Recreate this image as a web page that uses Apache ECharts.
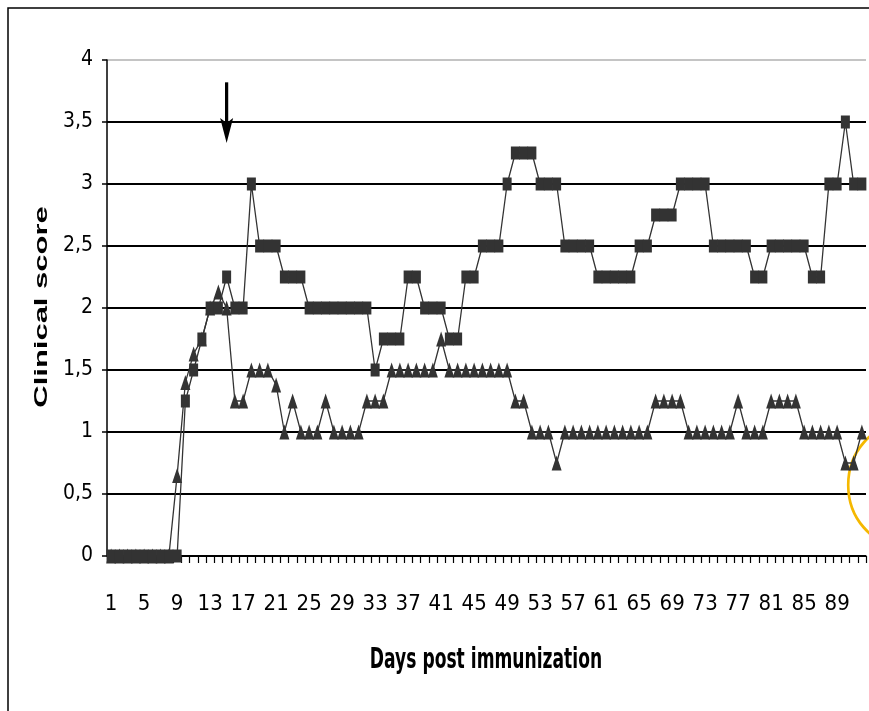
<!DOCTYPE html>
<html>
<head>
<meta charset="utf-8">
<script src="https://cdn.jsdelivr.net/npm/echarts@6/dist/echarts.min.js"></script>
<style>
html, body { margin: 0; padding: 0; background: #fff; }
#chart { width: 869px; height: 711px; }
</style>
</head>
<body>
<div id="chart"></div>
<script>
// days post immunization
var days = ['1','2','3','4','5','6','7','8','9','10','11','12','13','14','15','16','17','18','19','20',
  '21','22','23','24','25','26','27','28','29','30','31','32','33','34','35','36','37','38','39','40',
  '41','42','43','44','45','46','47','48','49','50','51','52','53','54','55','56','57','58','59','60',
  '61','62','63','64','65','66','67','68','69','70','71','72','73','74','75','76','77','78','79','80',
  '81','82','83','84','85','86','87','88','89','90','91','92'];

// square markers
var squareScore = [0,0,0,0,0,0,0,0,0,1.25,
  1.5,1.75,2,2,2.25,2,2,3,2.5,2.5,
  2.5,2.25,2.25,2.25,2,2,2,2,2,2,
  2,2,1.5,1.75,1.75,1.75,2.25,2.25,2,2,
  2,1.75,1.75,2.25,2.25,2.5,2.5,2.5,3,3.25,
  3.25,3.25,3,3,3,2.5,2.5,2.5,2.5,2.25,
  2.25,2.25,2.25,2.25,2.5,2.5,2.75,2.75,2.75,3,
  3,3,3,2.5,2.5,2.5,2.5,2.5,2.25,2.25,
  2.5,2.5,2.5,2.5,2.5,2.25,2.25,3,3,3.5,
  3,3];

// triangle markers
var triangleScore = [0,0,0,0,0,0,0,0,0.65,1.4,
  1.63,1.75,2,2.13,2,1.25,1.25,1.5,1.5,1.5,
  1.38,1,1.25,1,1,1,1.25,1,1,1,
  1,1.25,1.25,1.25,1.5,1.5,1.5,1.5,1.5,1.5,
  1.75,1.5,1.5,1.5,1.5,1.5,1.5,1.5,1.5,1.25,
  1.25,1,1,1,0.75,1,1,1,1,1,
  1,1,1,1,1,1,1.25,1.25,1.25,1.25,
  1,1,1,1,1,1,1.25,1,1,1,
  1.25,1.25,1.25,1.25,1,1,1,1,1,0.75,
  0.75,1];

// arrow annotation (day, from score, to score)
var arrowDay = '15';
var arrowFrom = 3.82;
var arrowTo = 3.33;

var narrow = "'Liberation Sans Narrow', 'Arial Narrow', 'DejaVu Sans Condensed', sans-serif";

var chart = echarts.init(document.getElementById('chart'));
var option = {
  animation: false,
  backgroundColor: '#fff',
  grid: { left: 107, right: 3, top: 60, bottom: 155 },
  xAxis: {
    type: 'category',
    data: days,
    boundaryGap: true,
    axisLine: { lineStyle: { color: '#000', width: 1.5 } },
    axisTick: { show: true, interval: 0, length: 7, lineStyle: { color: '#000', width: 1.2 } },
    axisLabel: { interval: 3, color: '#000', fontFamily: narrow, fontSize: 22, margin: 37 },
    splitLine: { show: false }
  },
  yAxis: {
    type: 'value',
    min: 0,
    max: 4,
    interval: 0.5,
    axisLine: { show: true, lineStyle: { color: '#000', width: 1.5 } },
    axisTick: { show: true, length: 5, lineStyle: { color: '#000', width: 1.5 } },
    axisLabel: {
      color: '#000', fontFamily: narrow, fontSize: 21, margin: 14,
      formatter: function (v) { return String(v).replace('.', ','); }
    },
    splitLine: {
      show: true,
      lineStyle: {
        color: ['#000', '#000', '#000', '#000', '#000', '#000', '#000', '#000', '#c4c4c4'],
        width: 2
      }
    }
  },
  series: [
    {
      name: 'triangles',
      type: 'line',
      data: triangleScore,
      symbol: 'triangle',
      symbolSize: [10, 15],
      showAllSymbol: true,
      itemStyle: { color: '#333' },
      lineStyle: { color: '#333', width: 1.3 }
    },
    {
      name: 'squares',
      type: 'line',
      data: squareScore,
      symbol: 'rect',
      symbolSize: [9, 13],
      showAllSymbol: true,
      itemStyle: { color: '#333' },
      lineStyle: { color: '#333', width: 1.3 }
    }
  ]
};
chart.setOption(option);

var p1 = chart.convertToPixel({ xAxisIndex: 0, yAxisIndex: 0 }, [arrowDay, arrowFrom]);
var p2 = chart.convertToPixel({ xAxisIndex: 0, yAxisIndex: 0 }, [arrowDay, arrowTo]);

chart.setOption({
  graphic: [
    // frame
    { type: 'rect', shape: { x: 8, y: 8, width: 900, height: 800 },
      style: { fill: 'none', stroke: '#000', lineWidth: 1.5 }, silent: true },
    // y axis title, stretched like the original
    { type: 'text', x: 42, y: 307, rotation: Math.PI / 2, scaleX: 1.72,
      style: { text: 'Clinical score', fontFamily: "'Liberation Sans', Arial, sans-serif",
        fontWeight: 'bold', fontSize: 18, fill: '#000', align: 'center', verticalAlign: 'middle' } },
    // x axis title, condensed like the original
    { type: 'text', x: 486, y: 661, scaleX: 0.68,
      style: { text: 'Days post immunization', fontFamily: narrow,
        fontWeight: 'bold', fontSize: 28, fill: '#000', align: 'center', verticalAlign: 'middle' } },
    // arrow
    { type: 'line', shape: { x1: p1[0], y1: p1[1], x2: p2[0], y2: p2[1] - 20 },
      style: { stroke: '#000', lineWidth: 3.2 } },
    { type: 'polygon', shape: { points: [[p2[0] - 6.5, p2[1] - 25], [p2[0], p2[1] - 20], [p2[0] + 6.5, p2[1] - 25], [p2[0], p2[1]]] },
      style: { fill: '#000' } },
    // orange mark, bottom right
    { type: 'circle', x: 901, y: 485, scaleX: 0.88, shape: { cx: 0, cy: 0, r: 60 },
      style: { fill: 'none', stroke: '#F5B800', lineWidth: 3 }, silent: true }
  ]
});
</script>
</body>
</html>
